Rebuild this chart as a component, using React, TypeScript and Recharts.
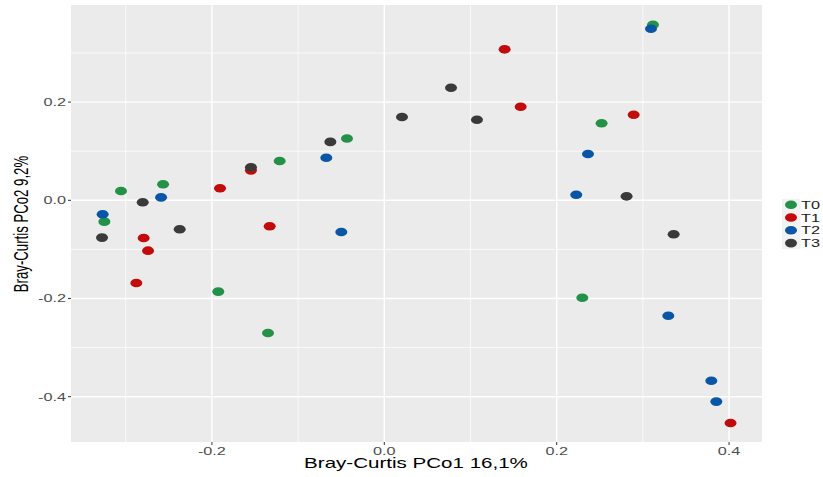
import React from "react";
import {
  ScatterChart,
  Scatter,
  XAxis,
  YAxis,
  ReferenceLine,
  ReferenceArea,
} from "recharts";

// ---- Data (PCo1, PCo2) ----
const seriesNames = ["T0", "T1", "T2", "T3"];
const seriesColors = ["#239147", "#C40B0B", "#0A56A6", "#3A3A3A"];

const t0 = [
  { x: -0.0433, y: 0.126 },
  { x: -0.1214, y: 0.08 },
  { x: -0.2567, y: 0.0326 },
  { x: -0.3055, y: 0.019 },
  { x: -0.3248, y: -0.0435 },
  { x: -0.1926, y: -0.186 },
  { x: -0.1349, y: -0.2703 },
  { x: 0.3117, y: 0.3577 },
  { x: 0.2521, y: 0.1568 },
  { x: 0.2297, y: -0.1984 },
];
const t1 = [
  { x: -0.1547, y: 0.061 },
  { x: -0.1906, y: 0.0244 },
  { x: -0.133, y: -0.053 },
  { x: -0.2792, y: -0.0768 },
  { x: -0.2741, y: -0.1026 },
  { x: -0.2877, y: -0.1684 },
  { x: 0.1396, y: 0.3075 },
  { x: 0.1582, y: 0.1906 },
  { x: 0.2893, y: 0.1744 },
  { x: 0.4017, y: -0.4536 },
];
const t2 = [
  { x: -0.0673, y: 0.0868 },
  { x: -0.259, y: 0.006 },
  { x: -0.3268, y: -0.0285 },
  { x: -0.0499, y: -0.0646 },
  { x: 0.3094, y: 0.3495 },
  { x: 0.2363, y: 0.0943 },
  { x: 0.2227, y: 0.0114 },
  { x: 0.3295, y: -0.235 },
  { x: 0.3794, y: -0.3674 },
  { x: 0.3852, y: -0.41 },
];
const t3 = [
  { x: 0.0205, y: 0.1696 },
  { x: -0.0626, y: 0.119 },
  { x: -0.1547, y: 0.0672 },
  { x: -0.2803, y: -0.004 },
  { x: -0.2374, y: -0.059 },
  { x: -0.3275, y: -0.076 },
  { x: 0.0774, y: 0.2293 },
  { x: 0.1075, y: 0.1642 },
  { x: 0.2811, y: 0.0081 },
  { x: 0.3357, y: -0.0692 },
];
const allSeries = [t0, t1, t2, t3];

const xDomain = [-0.3635, 0.4382];
const yDomain = [-0.4923, 0.3978];
const xTicks = [-0.2, 0.0, 0.2, 0.4];
const yTicks = [-0.4, -0.2, 0.0, 0.2];
const xMinor = [-0.3, -0.1, 0.1, 0.3];
const yMinor = [-0.3, -0.1, 0.1, 0.3];
const xTitle = "Bray-Curtis PCo1 16,1%";
const yTitle = "Bray-Curtis PCo2 9,2%";

const FONT = "'Liberation Sans', Arial, Helvetica, sans-serif";
const TICK_COLOR = "#4D4D4D";

const XTick = (props: any) => {
  const { x, y, payload } = props;
  return (
    <g transform={`translate(${x},${y + 8})`}>
      <text
        x={0}
        y={0}
        textAnchor="middle"
        fontFamily={FONT}
        fontSize={11.2}
        fill={TICK_COLOR}
        transform="scale(1.45,1)"
      >
        {Number(payload.value).toFixed(1)}
      </text>
    </g>
  );
};

const YTick = (props: any) => {
  const { x, y, payload } = props;
  return (
    <g transform={`translate(${x},${y + 4})`}>
      <text
        x={0}
        y={0}
        textAnchor="end"
        fontFamily={FONT}
        fontSize={11.2}
        fill={TICK_COLOR}
        transform="scale(1.45,1)"
      >
        {Number(payload.value).toFixed(1)}
      </text>
    </g>
  );
};

const makeShape = (color: string) => (props: any) => {
  const { cx, cy } = props;
  if (cx == null || cy == null) return <g />;
  return <ellipse cx={cx} cy={cy} rx={6} ry={4.3} fill={color} />;
};

export default function App() {
  return (
    <div style={{ position: "absolute", left: 0, top: 0, width: 823, height: 477, background: "#fff" }}>
      <ScatterChart
        width={823}
        height={477}
        margin={{ top: 5, right: 61, bottom: 0, left: 0 }}
      >
        <ReferenceArea
          x1={xDomain[0]}
          x2={xDomain[1]}
          y1={yDomain[0]}
          y2={yDomain[1]}
          fill="#EBEBEB"
          fillOpacity={1}
          stroke="none"
          ifOverflow="hidden"
        />
        {xMinor.map((v) => (
          <ReferenceLine key={`xm${v}`} x={v} stroke="#FFFFFF" strokeWidth={0.7} />
        ))}
        {yMinor.map((v) => (
          <ReferenceLine key={`ym${v}`} y={v} stroke="#FFFFFF" strokeWidth={0.7} />
        ))}
        {xTicks.map((v) => (
          <ReferenceLine key={`xM${v}`} x={v} stroke="#FFFFFF" strokeWidth={1.4} />
        ))}
        {yTicks.map((v) => (
          <ReferenceLine key={`yM${v}`} y={v} stroke="#FFFFFF" strokeWidth={1.4} />
        ))}
        <XAxis
          type="number"
          dataKey="x"
          domain={xDomain}
          ticks={xTicks}
          allowDataOverflow
          height={35}
          axisLine={false}
          tickSize={3}
          tickMargin={2}
          tickLine={{ stroke: "#333333", strokeWidth: 1 }}
          tick={<XTick />}
          interval={0}
        />
        <YAxis
          type="number"
          dataKey="y"
          domain={yDomain}
          ticks={yTicks}
          allowDataOverflow
          width={71}
          axisLine={false}
          tickSize={3}
          tickMargin={2}
          tickLine={{ stroke: "#333333", strokeWidth: 1 }}
          tick={<YTick />}
          interval={0}
        />
        {allSeries.map((d, i) => (
          <Scatter
            key={seriesNames[i]}
            name={seriesNames[i]}
            data={d}
            fill={seriesColors[i]}
            shape={makeShape(seriesColors[i])}
            isAnimationActive={false}
          />
        ))}
      </ScatterChart>
      {/* Axis titles */}
      <svg
        width={823}
        height={477}
        style={{ position: "absolute", left: 0, top: 0, pointerEvents: "none" }}
      >
        <text
          transform="translate(416,468.3) scale(1.37,1)"
          textAnchor="middle"
          fontFamily={FONT}
          fontSize={15}
          fill="#000"
        >
          {xTitle}
        </text>
        <text
          transform="translate(28,224) rotate(-90) scale(0.88,1.3)"
          textAnchor="middle"
          fontFamily={FONT}
          fontSize={15}
          fill="#000"
        >
          {yTitle}
        </text>
        {/* Legend */}
        <rect x={782} y={199} width={18.5} height={50} fill="#F2F2F2" />
        {seriesNames.map((n, i) => {
          const cy = 204.7 + i * 12.8;
          return (
            <g key={n}>
              <ellipse cx={791} cy={cy} rx={6} ry={4.3} fill={seriesColors[i]} />
              <text
                transform={`translate(801,${cy + 4}) scale(1.45,1)`}
                fontFamily={FONT}
                fontSize={11.2}
                fill="#1A1A1A"
              >
                {n}
              </text>
            </g>
          );
        })}
      </svg>
    </div>
  );
}
